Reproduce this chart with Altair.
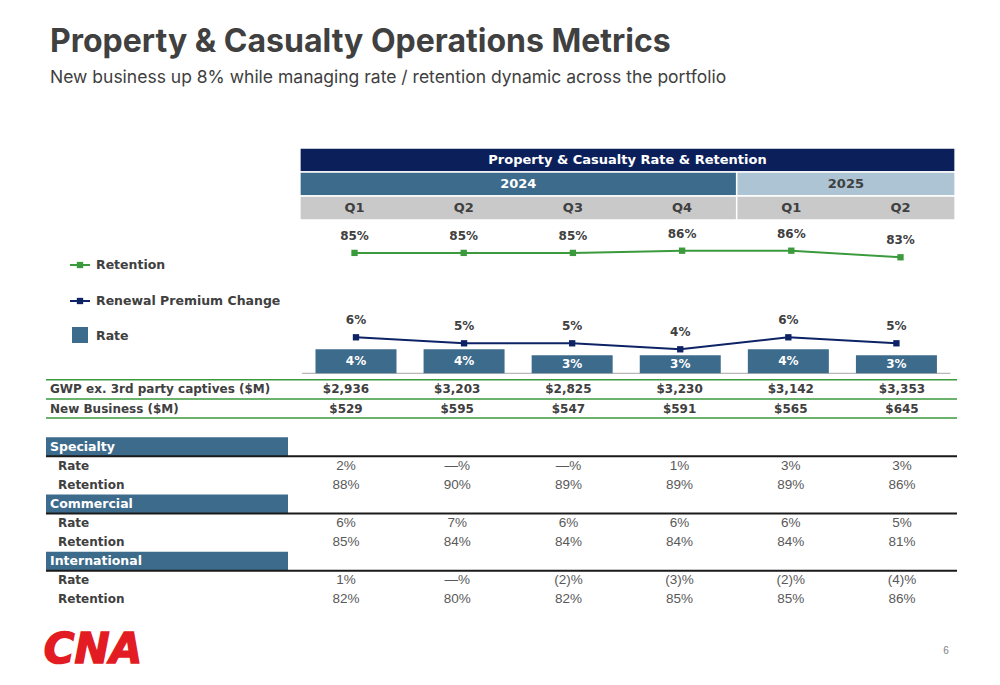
import altair as alt
import pandas as pd

# ---------------- data ----------------
quarters = ["Q1", "Q2", "Q3", "Q4", "Q1", "Q2"]
years = ["2024", "2024", "2024", "2024", "2025", "2025"]
retention = [85, 85, 85, 86, 86, 83]
renewal_premium_change = [6, 5, 5, 4, 6, 5]
rate = [4, 4, 3, 3, 4, 3]
gwp = [2936, 3203, 2825, 3230, 3142, 3353]
new_business = [529, 595, 547, 591, 565, 645]
segments = ["Specialty", "Commercial", "International"]
specialty_rate = [2, 0, 0, 1, 3, 3]
specialty_retention = [88, 90, 89, 89, 89, 86]
commercial_rate = [6, 7, 6, 6, 6, 5]
commercial_retention = [85, 84, 84, 84, 84, 81]
international_rate = [1, 0, -2, -3, -2, -4]
international_retention = [82, 80, 82, 85, 85, 86]

title = "Property & Casualty Operations Metrics"
subtitle = "New business up 8% while managing rate / retention dynamic across the portfolio"
table_title = "Property & Casualty Rate & Retention"
legend_names = ["Retention", "Renewal Premium Change", "Rate"]
top_row_names = ["GWP ex. 3rd party captives ($M)", "New Business ($M)"]
sub_row_names = ["Rate", "Retention"]
logo_text = "CNA"
page_number = "6"

# ---------------- styles ----------------
W = 984
DARK = "#404040"
VAL = "#595959"
NAVY = "#0B1F5B"
STEEL = "#3D6B8C"
LIGHT = "#ADC4D5"
GREY = "#C9C9C9"
GREEN = "#3A9A3C"
LINE_NAVY = "#0D2366"
RED = "#E31B23"
BOLD_FONT = "DejaVu Sans"
VAL_FONT = "Liberation Sans"
TITLE_FONT = "Inter"

one = pd.DataFrame({"k": [0]})
cols = list(range(len(quarters)))

xs_up = alt.Scale(domain=[-3.1731, 5.8379])
xs_lo = alt.Scale(domain=[-3.0396, 5.8094])


def txt(s, x, y, size, color, font, weight="normal", align="left", style="normal", stroke_w=0):
    kw = {}
    if stroke_w:
        kw = {"stroke": color, "strokeWidth": stroke_w}
    return alt.Chart(one).mark_text(
        text=s, align=align, baseline="middle", fontSize=size, font=font,
        fontWeight=weight, color=color, fontStyle=style, **kw,
    ).encode(x=alt.value(x), y=alt.value(y))


def pct(v):
    if v == 0:
        return "\u2014%"
    if v < 0:
        return f"({abs(v)})%"
    return f"{v}%"


# ---------------- P1: titles ----------------
p1 = alt.layer(
    txt(title, 42, 34, 32, DARK, TITLE_FONT, "bold"),
    txt(subtitle, 42, 70, 17.5, DARK, TITLE_FONT),
).properties(width=W, height=132)

# ---------------- P2: header table ----------------
year_spans = []
for yv in dict.fromkeys(years):
    idx = [i for i, v in enumerate(years) if v == yv]
    year_spans.append((yv, min(idx) - 0.5, max(idx) + 0.5))

hdr_rows = [{"r0": 0, "r1": 1, "x0": -0.5, "x1": len(quarters) - 0.5,
             "fill": NAVY, "label": table_title, "tcol": "white"}]
for i, (yv, a, b) in enumerate(year_spans):
    hdr_rows.append({"r0": 1, "r1": 2, "x0": a, "x1": b,
                     "fill": STEEL if i == 0 else LIGHT, "label": yv,
                     "tcol": "white" if i == 0 else DARK})
for (yv, a, b) in year_spans:
    hdr_rows.append({"r0": 2, "r1": 3, "x0": a, "x1": b, "fill": GREY,
                     "label": "", "tcol": DARK})
hdr = pd.DataFrame(hdr_rows)
hdr["xm"] = (hdr.x0 + hdr.x1) / 2
hdr["rm"] = (hdr.r0 + hdr.r1) / 2
ys_hdr = alt.Scale(domain=[-1 / 3, 3], reverse=True)

hbase = alt.Chart(hdr)
h_rects = hbase.mark_rect(stroke="white", strokeWidth=1.5).encode(
    x=alt.X("x0:Q", scale=xs_up, axis=None), x2="x1",
    y=alt.Y("r0:Q", scale=ys_hdr, axis=None), y2="r1",
    color=alt.Color("fill:N", scale=None),
)
h_text = hbase.transform_filter("datum.label != ''").mark_text(
    font=BOLD_FONT, fontWeight="bold", fontSize=13, baseline="middle"
).encode(
    x=alt.X("xm:Q", scale=xs_up, axis=None),
    y=alt.Y("rm:Q", scale=ys_hdr, axis=None),
    text="label:N", color=alt.Color("tcol:N", scale=None),
)
qdf = pd.DataFrame({"c": cols, "q": quarters, "r": [2.5] * len(quarters)})
q_text = alt.Chart(qdf).mark_text(
    font=BOLD_FONT, fontWeight="bold", fontSize=13, baseline="middle", color=DARK
).encode(
    x=alt.X("c:Q", scale=xs_up, axis=None),
    y=alt.Y("r:Q", scale=ys_hdr, axis=None),
    text="q:N",
)
p2 = alt.layer(h_rects, h_text, q_text).properties(width=W, height=80)

# ---------------- P3: retention line ----------------
df = pd.DataFrame({"c": cols, "retention": retention,
                   "renewal": renewal_premium_change, "rate": rate})
ys_ret = alt.Scale(domain=[71.77, 99.95])
ret_line = alt.Chart(df).mark_line(
    color=GREEN, strokeWidth=2,
    point=alt.OverlayMarkDef(shape="square", size=40, filled=True, color=GREEN, opacity=1),
).encode(
    x=alt.X("c:Q", scale=xs_up, axis=None),
    y=alt.Y("retention:Q", scale=ys_ret, axis=None),
)
ret_lab = alt.Chart(df).transform_calculate(lab="datum.retention + '%'").mark_text(
    dy=-17, font=BOLD_FONT, fontWeight="bold", fontSize=12, color=DARK, baseline="middle"
).encode(
    x=alt.X("c:Q", scale=xs_up, axis=None),
    y=alt.Y("retention:Q", scale=ys_ret, axis=None),
    text="lab:N",
)
leg1_rule = alt.Chart(one).mark_rule(color=GREEN, strokeWidth=2).encode(
    x=alt.value(62), x2=alt.value(82), y=alt.value(45))
leg1_pt = alt.Chart(one).mark_point(shape="square", size=40, filled=True, color=GREEN, opacity=1).encode(
    x=alt.value(72), y=alt.value(45))
leg1_txt = txt(legend_names[0], 88, 45, 12.5, DARK, BOLD_FONT, "bold")
p3 = alt.layer(ret_line, ret_lab, leg1_rule, leg1_pt, leg1_txt).properties(width=W, height=62)

# ---------------- P4: renewal premium change + rate ----------------
ys_pct = alt.Scale(domain=[-0.783, 15.217])
base_df = pd.DataFrame({"x0": [-0.5], "x1": [len(quarters) - 0.5], "y": [0]})
baseline = alt.Chart(base_df).mark_rule(color="#A6A6A6", strokeWidth=1).encode(
    x=alt.X("x0:Q", scale=xs_up, axis=None), x2="x1",
    y=alt.Y("y:Q", scale=ys_pct, axis=None),
)
bars = alt.Chart(df).mark_bar(size=81, color=STEEL).encode(
    x=alt.X("c:Q", scale=xs_up, axis=None),
    y=alt.Y("rate:Q", scale=ys_pct, axis=None),
)
bar_lab = alt.Chart(df).transform_calculate(
    half="datum.rate / 2", lab="datum.rate + '%'"
).mark_text(font=BOLD_FONT, fontWeight="bold", fontSize=12, color="white", baseline="middle").encode(
    x=alt.X("c:Q", scale=xs_up, axis=None),
    y=alt.Y("half:Q", scale=ys_pct, axis=None),
    text="lab:N",
)
ren_line = alt.Chart(df).mark_line(
    color=LINE_NAVY, strokeWidth=2,
    point=alt.OverlayMarkDef(shape="square", size=40, filled=True, color=LINE_NAVY, opacity=1),
).encode(
    x=alt.X("c:Q", scale=xs_up, axis=None),
    y=alt.Y("renewal:Q", scale=ys_pct, axis=None),
)
ren_lab = alt.Chart(df).transform_calculate(lab="datum.renewal + '%'").mark_text(
    dy=-17, font=BOLD_FONT, fontWeight="bold", fontSize=12, color=DARK, baseline="middle"
).encode(
    x=alt.X("c:Q", scale=xs_up, axis=None),
    y=alt.Y("renewal:Q", scale=ys_pct, axis=None),
    text="lab:N",
)
leg2_rule = alt.Chart(one).mark_rule(color=LINE_NAVY, strokeWidth=2).encode(
    x=alt.value(62), x2=alt.value(82), y=alt.value(19))
leg2_pt = alt.Chart(one).mark_point(shape="square", size=40, filled=True, color=LINE_NAVY, opacity=1).encode(
    x=alt.value(72), y=alt.value(19))
leg2_txt = txt(legend_names[1], 88, 19, 12.5, DARK, BOLD_FONT, "bold")
leg3_sw = alt.Chart(one).mark_point(shape="square", size=256, filled=True, color=STEEL, opacity=1).encode(
    x=alt.value(72), y=alt.value(53))
leg3_txt = txt(legend_names[2], 88, 54, 12.5, DARK, BOLD_FONT, "bold")
p4 = alt.layer(baseline, bars, bar_lab, ren_line, ren_lab,
               leg2_rule, leg2_pt, leg2_txt, leg3_sw, leg3_txt).properties(width=W, height=96)

# ---------------- P5: lower table ----------------
seg_vals = {
    "Specialty": (specialty_rate, specialty_retention),
    "Commercial": (commercial_rate, commercial_retention),
    "International": (international_rate, international_retention),
}
cells, labels, rules, sections = [], [], [], []
r = -3
for name, vals in zip(top_row_names, [gwp, new_business]):
    labels.append({"r": r, "label": name, "kind": "top"})
    for c, v in enumerate(vals):
        cells.append({"r": r, "c": c, "text": f"${v:,}", "kind": "top"})
    rules.append({"y": r - 0.5, "col": GREEN, "w": 1.5})
    r += 1
rules.append({"y": r - 0.5, "col": GREEN, "w": 1.5})
r = 0
for seg in segments:
    rt, rn = seg_vals[seg]
    sections.append({"r0": r - 0.5, "r1": r + 0.5, "rm": r, "label": seg})
    rules.append({"y": r + 0.5, "col": "#1A1A1A", "w": 2})
    for k, (sub, vals) in enumerate(zip(sub_row_names, [rt, rn])):
        labels.append({"r": r + 1 + k, "label": sub, "kind": "sub"})
        for c, v in enumerate(vals):
            cells.append({"r": r + 1 + k, "c": c, "text": pct(v), "kind": "seg"})
    r += 3
cells = pd.DataFrame(cells)
labels = pd.DataFrame(labels)
rules = pd.DataFrame(rules)
sections = pd.DataFrame(sections)
ys_lo = alt.Scale(domain=[-3.597, 8.550], reverse=True)

sec_rect = alt.Chart(sections).mark_rect(color=STEEL).encode(
    x=alt.value(38), x2=alt.value(280),
    y=alt.Y("r0:Q", scale=ys_lo, axis=None), y2="r1",
)
sec_txt = alt.Chart(sections).mark_text(
    align="left", baseline="middle", font=BOLD_FONT, fontWeight="bold", fontSize=12.5, color="white"
).encode(x=alt.value(42), y=alt.Y("rm:Q", scale=ys_lo, axis=None), text="label:N")
rule_l = alt.Chart(rules).mark_rule().encode(
    x=alt.value(38), x2=alt.value(949),
    y=alt.Y("y:Q", scale=ys_lo, axis=None),
    color=alt.Color("col:N", scale=None),
    strokeWidth=alt.StrokeWidth("w:Q", scale=None),
)
top_lab = alt.Chart(labels).transform_filter("datum.kind == 'top'").mark_text(
    align="left", baseline="middle", font=BOLD_FONT, fontWeight="bold", fontSize=12, color=DARK
).encode(x=alt.value(42), y=alt.Y("r:Q", scale=ys_lo, axis=None), text="label:N")
sub_lab = alt.Chart(labels).transform_filter("datum.kind == 'sub'").mark_text(
    align="left", baseline="middle", font=BOLD_FONT, fontWeight="bold", fontSize=12, color=DARK
).encode(x=alt.value(50), y=alt.Y("r:Q", scale=ys_lo, axis=None), text="label:N")
top_cells = alt.Chart(cells).transform_filter("datum.kind == 'top'").mark_text(
    baseline="middle", font=BOLD_FONT, fontWeight="bold", fontSize=12, color=DARK
).encode(
    x=alt.X("c:Q", scale=xs_lo, axis=None),
    y=alt.Y("r:Q", scale=ys_lo, axis=None), text="text:N",
)
seg_cells = alt.Chart(cells).transform_filter("datum.kind == 'seg'").mark_text(
    baseline="middle", font=VAL_FONT, fontSize=13.5, color=VAL
).encode(
    x=alt.X("c:Q", scale=xs_lo, axis=None),
    y=alt.Y("r:Q", scale=ys_lo, axis=None), text="text:N",
)
p5 = alt.layer(sec_rect, rule_l, sec_txt, top_lab, sub_lab, top_cells, seg_cells).properties(
    width=W, height=232)

# ---------------- P6: footer ----------------
p6 = alt.layer(
    txt(logo_text, 85, 40, 42, RED, BOLD_FONT, "bold", align="center", style="italic", stroke_w=1.5),
    txt(page_number, 938, 41, 10, "#808080", VAL_FONT, align="center"),
).properties(width=W, height=67)

chart = alt.vconcat(p1, p2, p3, p4, p5, p6, spacing=0, bounds="flush").resolve_scale(
    x="independent", y="independent"
).properties(padding=0).configure_view(stroke=None)

chart.save("out.html", embed_options={"renderer": "svg", "actions": False})
